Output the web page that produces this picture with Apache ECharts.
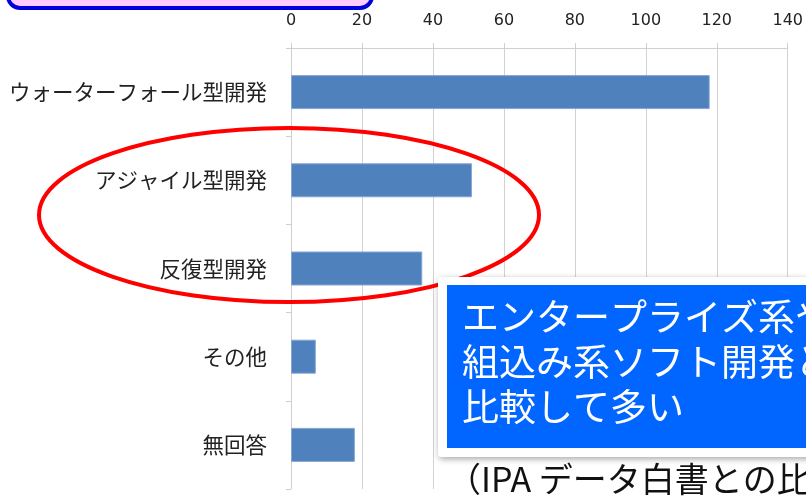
<!DOCTYPE html>
<html>
<head>
<meta charset="utf-8">
<script src="https://cdn.jsdelivr.net/npm/echarts@6/dist/echarts.min.js"></script>
<style>
  html, body { margin: 0; padding: 0; background: #fff; }
  #main { width: 806px; height: 496px; }
</style>
</head>
<body>
<div id="main"></div>
<script>
// 開発手法ごとの件数
var categories = ['ウォーターフォール型開発', 'アジャイル型開発', '反復型開発', 'その他', '無回答'];
var counts = [118, 51, 37, 7, 18];
var calloutLines = ['エンタープライズ系や', '組込み系ソフト開発と', '比較して多い'];
var noteText = '（IPA データ白書との比較）';

var myChart = echarts.init(document.getElementById('main'));

var jp = '"Noto Sans CJK JP", "Noto Sans", sans-serif';

myChart.setOption({
  animation: false,
  backgroundColor: '#fff',
  grid: { left: 291, right: 15, top: 48, bottom: 7 },
  xAxis: {
    type: 'value',
    position: 'top',
    min: 0,
    max: 140,
    interval: 20,
    axisLine: { show: true, lineStyle: { color: '#cfcfcf', width: 1 } },
    axisTick: { show: true, length: 5, lineStyle: { color: '#cfcfcf' } },
    axisLabel: { margin: 19, color: '#222', fontSize: 16, fontFamily: '"DejaVu Sans", sans-serif' },
    splitLine: { show: true, lineStyle: { color: '#d2d2d2', width: 1 } }
  },
  yAxis: {
    type: 'category',
    data: categories,
    inverse: true,
    axisLine: { show: true, lineStyle: { color: '#cfcfcf', width: 1 } },
    axisTick: { show: true, length: 5, lineStyle: { color: '#cfcfcf' } },
    axisLabel: { margin: 24, color: '#222', fontSize: 21.5, fontFamily: jp }
  },
  series: [{
    type: 'bar',
    data: counts,
    barWidth: 34,
    itemStyle: { color: '#4f81bd', borderColor: '#86a6d2', borderWidth: 1 },
    z: 2
  }],
  graphic: [
    {
      // 上のピンクの枠（切れている）
      type: 'rect',
      shape: { x: 8, y: -40, width: 364, height: 48, r: 12 },
      style: { fill: '#ffccff', stroke: '#0000dd', lineWidth: 4 },
      z: 10
    },
    {
      type: 'ellipse',
      shape: { cx: 289, cy: 215, rx: 250, ry: 87 },
      style: { fill: null, stroke: '#ff0000', lineWidth: 4 },
      z: 11
    },
    {
      // 下の注記のうしろの白地
      type: 'rect',
      shape: { x: 437, y: 456, width: 369, height: 40 },
      style: { fill: '#fff' },
      z: 12
    },
    {
      type: 'rect',
      shape: { x: 438, y: 277, width: 380, height: 180, r: 3 },
      style: { fill: '#fff', shadowBlur: 6, shadowColor: 'rgba(0,0,0,0.35)', shadowOffsetX: 1, shadowOffsetY: 2 },
      z: 13
    },
    {
      type: 'rect',
      shape: { x: 447, y: 285, width: 370, height: 163 },
      style: { fill: '#0066ff' },
      z: 14
    },
    {
      type: 'text',
      x: 462, y: 317,
      style: { text: calloutLines[0], fill: '#fff', font: '37px ' + jp, verticalAlign: 'middle' },
      z: 15
    },
    {
      type: 'text',
      x: 462, y: 362,
      style: { text: calloutLines[1], fill: '#fff', font: '37px ' + jp, verticalAlign: 'middle' },
      z: 15
    },
    {
      type: 'text',
      x: 462, y: 407,
      style: { text: calloutLines[2], fill: '#fff', font: '37px ' + jp, verticalAlign: 'middle' },
      z: 15
    },
    {
      type: 'text',
      x: 447, y: 479,
      style: { text: noteText, fill: '#111', font: '34px ' + jp, verticalAlign: 'middle' },
      z: 15
    }
  ]
});
</script>
</body>
</html>
